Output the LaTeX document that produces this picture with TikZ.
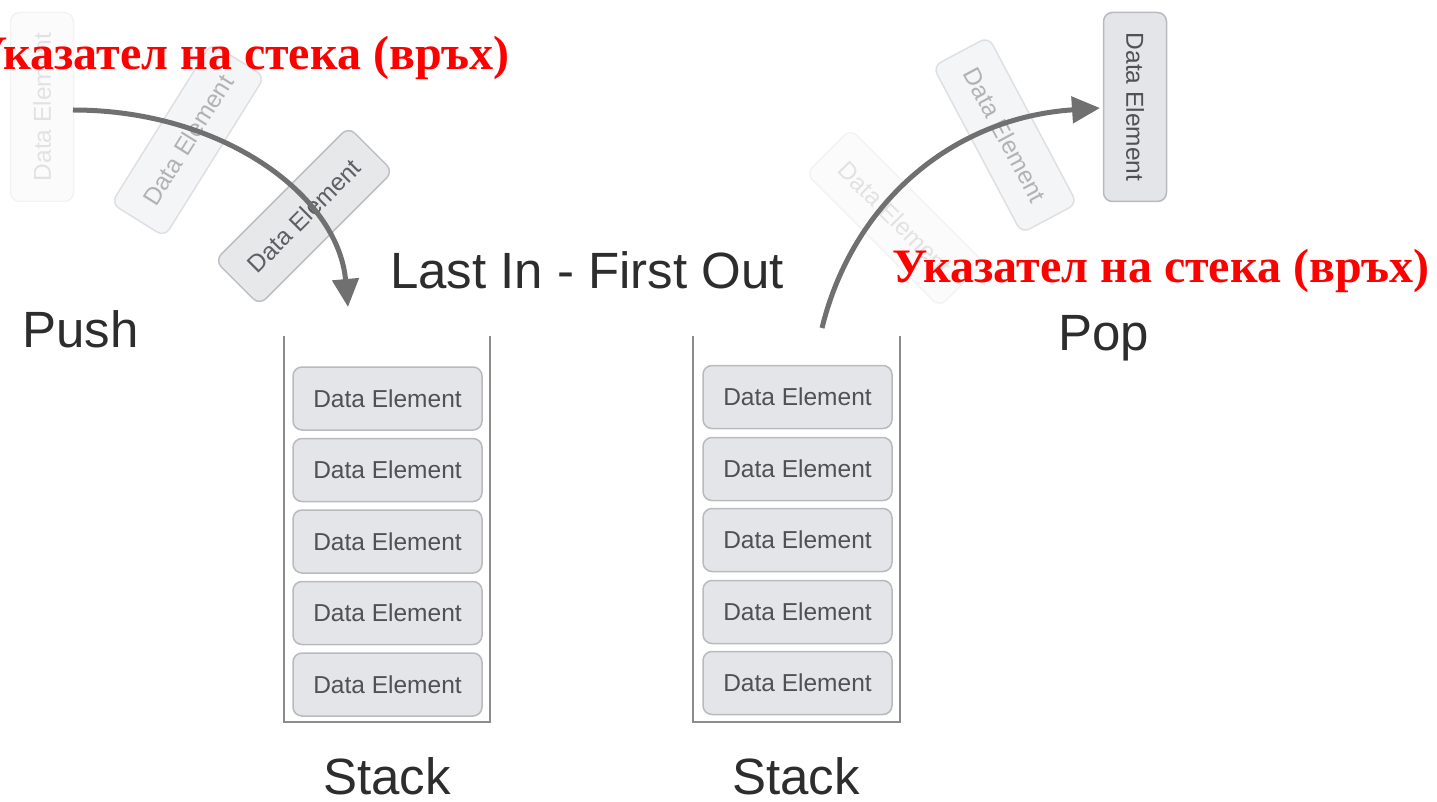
\documentclass[tikz,border=0pt]{standalone}
\usepackage{fontspec}
\setmainfont{Liberation Sans}
\newfontfamily\redfont{Liberation Serif}
\usetikzlibrary{arrows.meta}

\definecolor{boxfill}{RGB}{228,229,232}
\definecolor{boxline}{RGB}{185,186,190}
\definecolor{boxtext}{RGB}{80,80,85}
\definecolor{wallgray}{RGB}{140,140,140}
\definecolor{arrowgray}{RGB}{112,112,112}
\definecolor{labelgray}{RGB}{45,45,45}

\begin{document}
\begin{tikzpicture}[x=1pt,y=-1pt,
  elem/.style={draw=boxline, fill=boxfill, line width=1.5pt, rounded corners=9pt,
    minimum width=189pt, minimum height=63pt, inner sep=0pt, text=boxtext,
    font=\fontsize{24.5}{28}\selectfont},
  wall/.style={draw=wallgray, line width=2.5pt},
  title/.style={text=labelgray, font=\fontsize{51}{60}\selectfont, inner sep=0pt},
  pointer/.style={text=red, font=\redfont\bfseries\fontsize{48}{56}\selectfont, inner sep=0pt},
  move/.style={draw=arrowgray, line width=5pt, -{Triangle[length=28pt,width=26pt]}}
]
\useasboundingbox (0,0) rectangle (1437,802);

% elements on their way into the left stack
\node[elem, rotate=90, opacity=0.15] (pushA) at (42,107) {Data Element};
\node[elem, rotate=58, opacity=0.4] (pushB) at (188,140) {Data Element};
\node[elem, rotate=45, opacity=0.9] (pushC) at (304,216) {Data Element};

% elements leaving the right stack
\node[elem, rotate=-45, opacity=0.15] (popF) at (895,218) {Data Element};
\node[elem, rotate=-62, opacity=0.4] (popE) at (1005,135) {Data Element};
\node[elem, rotate=-90] (popD) at (1135,107) {Data Element};

% the two stacks
\draw[wall] (284,336) -- (284,722) -- (490,722) -- (490,336);
\draw[wall] (693,336) -- (693,722) -- (900,722) -- (900,336);
\foreach \i/\y in {1/398.5,2/470,3/541.5,4/613,5/684.5}{
  \node[elem] (l\i) at (387.5,\y) {Data Element};
}
\foreach \i/\y in {1/397,2/469,3/540,4/612,5/683}{
  \node[elem] (r\i) at (797.5,\y) {Data Element};
}

% labels
\node[title, anchor=base] (lifo) at (587,289) {Last In - First Out};
\node[title, anchor=base west] (push) at (22,347) {Push};
\node[title, anchor=base west] (pop) at (1058,350) {Pop};
\node[title, anchor=base] (stackL) at (387,794) {Stack};
\node[title, anchor=base] (stackR) at (796,794) {Stack};

% push and pop movements
\coordinate (pushstart) at (73,110);
\coordinate (pushend) at (348,307);
\coordinate (popstart) at (822,328);
\coordinate (popend) at (1100,108);
\draw[move] (pushstart) .. controls (222,110) and (338,195) .. (pushend);
\draw[move] (popstart) .. controls (852,205) and (950,118) .. (popend);

% stack pointer captions
\node[pointer, anchor=base east] (ptrL) at (510,70) {Указател на стека (връх)};
\node[pointer, anchor=base east] (ptrR) at (1430,283) {Указател на стека (връх)};
\end{tikzpicture}
\end{document}
